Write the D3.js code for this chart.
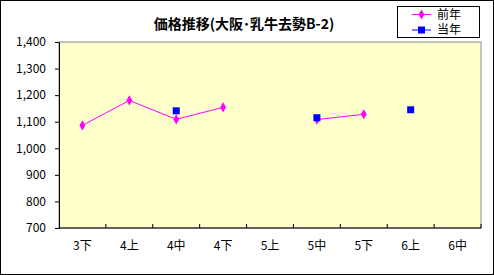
<!DOCTYPE html>
<html>
<head>
<meta charset="utf-8">
<script src="https://cdn.jsdelivr.net/npm/d3@7"></script>
<style>
body{margin:0;background:#fff}
text{font-family:"Noto Sans CJK JP","Noto Sans",sans-serif}
</style>
</head>
<body>
<svg width="494" height="275"></svg>
<script>
// categories and values
var cats = ['3下','4上','4中','4下','5上','5中','5下','6上','6中']
var prev = [1086, 1180, 1109, 1154, null, 1108, 1128, null, null]   // 前年
var curr = [null, null, 1141, null, null, 1115, null, 1145, null]   // 当年
var yTicks = [700, 800, 900, 1000, 1100, 1200, 1300, 1400]

var svg = d3.select('svg')
var W = 494, H = 275
var L = 59, R = 481, T = 42, B = 228

svg.append('rect').attr('x',0.5).attr('y',0.5).attr('width',W-1).attr('height',H-1)
  .attr('fill','#fff').attr('stroke','#000')

var x = d3.scaleBand().domain(cats).range([L,R])
var y = d3.scaleLinear().domain([700,1400]).range([B,T])

svg.append('rect').attr('x',L).attr('y',T).attr('width',R-L).attr('height',B-T)
  .attr('fill','#ffffcc').attr('stroke','#888').attr('stroke-width',1)

// y axis
var ya = svg.append('g').attr('transform','translate('+L+',0)')
  .call(d3.axisLeft(y).tickValues(yTicks).tickSize(4).tickSizeOuter(0).tickFormat(d3.format(',')))
ya.select('.domain').attr('stroke','#000')
ya.selectAll('line').attr('stroke','#000')
ya.selectAll('text').attr('font-size',12).attr('fill','#000').attr('x',-13)

// x axis, ticks between categories
var xa = svg.append('g').attr('transform','translate(0,'+B+')')
xa.append('line').attr('x1',L).attr('x2',R).attr('stroke','#000')
xa.selectAll('.tk').data(cats).enter().append('line')
  .attr('x1',d=>x(d)+x.bandwidth()).attr('x2',d=>x(d)+x.bandwidth())
  .attr('y1',0).attr('y2',-4).attr('stroke','#000')
xa.selectAll('.lb').data(cats).enter().append('text')
  .attr('x',d=>x(d)+x.bandwidth()/2).attr('y',22)
  .attr('text-anchor','middle').attr('font-size',12).text(d=>d)

var line = d3.line()
  .defined(d=>d!=null)
  .x((d,i)=>x(cats[i])+x.bandwidth()/2)
  .y(d=>y(d))

svg.append('path').attr('d',line(prev)).attr('fill','none').attr('stroke','#ff00ff').attr('stroke-width',1)
svg.append('path').attr('d',line(curr)).attr('fill','none').attr('stroke','#0000ff').attr('stroke-width',1)

var diamond = d3.symbol().type(d3.symbolDiamond).size(30)
svg.selectAll('.p').data(prev.map((v,i)=>({v:v,c:cats[i]})).filter(d=>d.v!=null)).enter()
  .append('path').attr('d',diamond)
  .attr('transform',d=>'translate('+(x(d.c)+x.bandwidth()/2)+','+y(d.v)+')')
  .attr('fill','#ff00ff')
svg.selectAll('.c').data(curr.map((v,i)=>({v:v,c:cats[i]})).filter(d=>d.v!=null)).enter()
  .append('rect')
  .attr('x',d=>x(d.c)+x.bandwidth()/2-3.5).attr('y',d=>y(d.v)-3.5)
  .attr('width',7).attr('height',7).attr('fill','#0000ff')

// title
svg.append('text').attr('x',244).attr('y',29).attr('text-anchor','middle')
  .attr('font-size',14).attr('font-weight','bold').text('価格推移(大阪･乳牛去勢B-2)')

// legend
var lg = svg.append('g')
lg.append('rect').attr('x',397.5).attr('y',6.5).attr('width',82).attr('height',31)
  .attr('fill','#fff').attr('stroke','#000')
var items = [{n:'前年',c:'#ff00ff',s:'d'},{n:'当年',c:'#0000ff',s:'s'}]
items.forEach(function(it,i){
  var yy = 14.5 + i*15.5
  lg.append('line').attr('x1',412).attr('x2',431).attr('y1',yy).attr('y2',yy).attr('stroke',it.c)
  if(it.s=='d') lg.append('path').attr('d',diamond).attr('transform','translate(421.5,'+yy+')').attr('fill',it.c)
  else lg.append('rect').attr('x',418).attr('y',yy-3.5).attr('width',7).attr('height',7).attr('fill',it.c)
  lg.append('text').attr('x',437).attr('y',yy).attr('dy','0.35em').attr('font-size',12).text(it.n)
})
</script>
</body>
</html>
